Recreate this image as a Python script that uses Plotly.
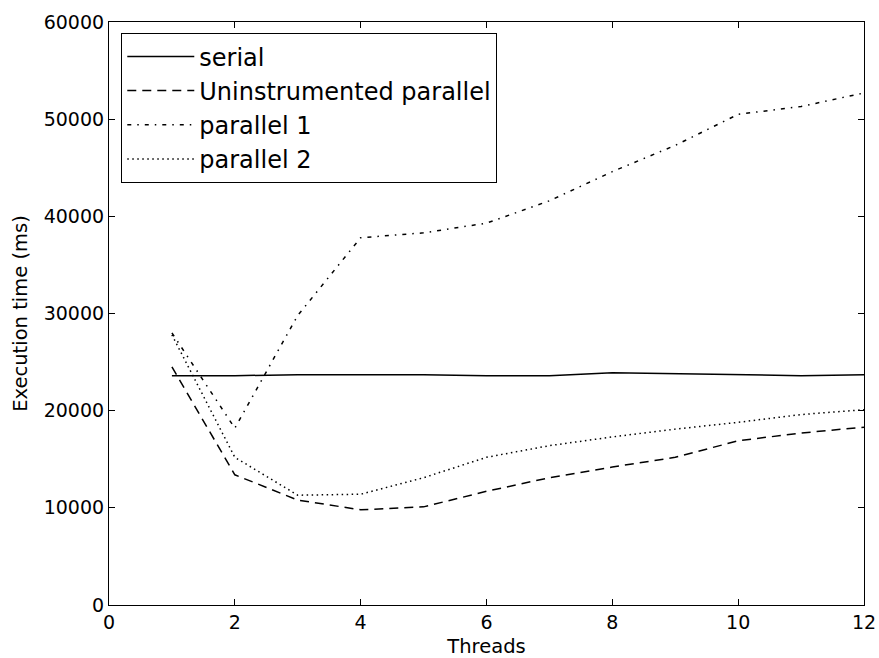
import plotly.graph_objects as go

threads = [1, 2, 3, 4, 5, 6, 7, 8, 9, 10, 11, 12]
serial = [23600, 23600, 23700, 23700, 23700, 23600, 23600, 23900, 23800, 23700, 23600, 23700]
uninstrumented = [24500, 13400, 10800, 9800, 10100, 11700, 13100, 14200, 15200, 16900, 17700, 18300]
parallel1 = [28000, 18200, 29800, 37800, 38300, 39300, 41600, 44600, 47300, 50500, 51300, 52700]
parallel2 = [27800, 15200, 11300, 11400, 13100, 15200, 16400, 17300, 18100, 18800, 19600, 20100]

series = [
    ("serial", serial, "solid"),
    ("Uninstrumented parallel", uninstrumented, "9px,6px"),
    ("parallel 1", parallel1, "4px,6px,1.5px,6px"),
    ("parallel 2", parallel2, "1.5px,3.5px"),
]

fig = go.Figure()
for name, vals, dash in series:
    fig.add_trace(go.Scatter(x=threads, y=vals, mode="lines", name=name,
                             line=dict(color="black", width=1.5, dash=dash)))

axis_common = dict(showgrid=False, zeroline=False, showline=True, linecolor="black",
                   linewidth=1.2, mirror="allticks", ticks="inside", ticklen=6,
                   tickcolor="black", automargin=False,
                   tickfont=dict(family="DejaVu Sans", size=19, color="black"))

fig.update_layout(
    width=879, height=658,
    margin=dict(l=109, r=15, t=22, b=53),
    plot_bgcolor="white", paper_bgcolor="white",
    font=dict(family="DejaVu Sans", color="black"),
    xaxis=dict(range=[0, 12], dtick=2,
               title=dict(text="Threads", font=dict(size=19.5), standoff=11), **axis_common),
    yaxis=dict(range=[0, 60000], dtick=10000, tickformat="d",
               title=dict(text="Execution time (ms)", font=dict(size=19.5), standoff=10), **axis_common),
    legend=dict(x=0.016, y=0.981, xanchor="left", yanchor="top", bordercolor="black", borderwidth=1.2,
                bgcolor="white", font=dict(size=24, family="DejaVu Sans"), tracegroupgap=0,
                itemwidth=67),
    showlegend=True,
)

fig.write_html("out.html")
